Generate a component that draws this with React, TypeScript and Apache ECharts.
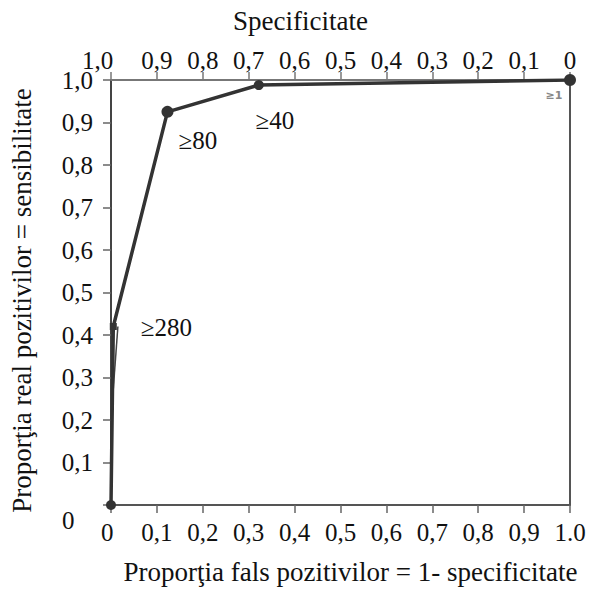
import React, { useEffect, useRef } from "react";
import * as echarts from "echarts";

const bottomTickLabels = ["0", "0,1", "0,2", "0,3", "0,4", "0,5", "0,6", "0,7", "0,8", "0,9", "1.0"];
const topTickLabels = ["1,0", "0,9", "0,8", "0,7", "0,6", "0,5", "0,4", "0,3", "0,2", "0,1", "0"];
const leftTickLabels = ["0", "0,1", "0,2", "0,3", "0,4", "0,5", "0,6", "0,7", "0,8", "0,9", "1,0"];

// ROC curve points: [1 - specificity, sensitivity]
const rocX = [0, 0.005, 0.123, 0.322, 1.0];
const rocY = [0, 0.42, 0.925, 0.988, 1.0];
const cutoffLabels = ["", "≥280", "≥80", "≥40", "≥1"];
// thin inner trace of the drawn curve near the origin
const innerX = [0, 0.015];
const innerY = [0.2, 0.42];

const SERIF = "Liberation Serif";

export default function App() {
  const ref = useRef<HTMLDivElement>(null);
  useEffect(() => {
    if (!ref.current) return;
    const chart = echarts.init(ref.current, undefined, { renderer: "svg" });
    const labelPos: any[] = [
      null,
      { position: "right", offset: [19, 1], fontSize: 25 },
      { position: "right", offset: [0, 29], fontSize: 25 },
      { position: "bottom", offset: [16, 13], fontSize: 25 },
      { position: "bottom", offset: [-16, -1], fontSize: 11, color: "#888", fontFamily: "DejaVu Sans", fontWeight: "bold" },
    ];
    const symbolSizes = [10, 7, 12, 10, 12];
    const symbols = ["circle", "rect", "circle", "circle", "circle"];
    const mainData = rocX.map((x, i) => ({
      value: [x, rocY[i]],
      symbol: symbols[i],
      symbolSize: symbolSizes[i],
      label: labelPos[i]
        ? {
            show: true,
            formatter: cutoffLabels[i],
            color: "#111",
            fontFamily: SERIF,
            ...labelPos[i],
          }
        : { show: false },
    }));
    const idx = (v: number) => Math.round(v * 10);
    chart.setOption({
      animation: false,
      backgroundColor: "#fff",
      textStyle: { fontFamily: SERIF },
      grid: {
        left: 111,
        right: 27,
        top: 80,
        bottom: 86,
        outerBoundsMode: "none",
        containLabel: false,
        show: true,
        borderColor: "#555",
        borderWidth: 2,
        backgroundColor: "transparent",
      },
      xAxis: [
        {
          type: "value",
          position: "bottom",
          min: 0,
          max: 1,
          interval: 0.1,
          name: "Proporţia fals pozitivilor = 1- specificitate",
          nameLocation: "middle",
          nameGap: 53,
          nameTextStyle: { fontFamily: SERIF, fontSize: 27, color: "#111", padding: [0, 0, 0, 20] },
          axisLine: { show: true, lineStyle: { color: "#555", width: 2 } },
          axisTick: { show: true, inside: false, length: 8, lineStyle: { color: "#666", width: 1.5 } },
          splitLine: { show: false },
          axisLabel: {
            margin: 15,
            fontFamily: SERIF,
            fontSize: 25,
            color: "#111",
            formatter: (v: number) => {
              const i = idx(v);
              return i === 0 ? "{b|" + bottomTickLabels[i] + "}" : bottomTickLabels[i];
            },
            rich: { b: { fontFamily: SERIF, fontSize: 25, color: "#111", width: 20, align: "left" } },
          },
        },
        {
          type: "value",
          position: "top",
          min: 0,
          max: 1,
          interval: 0.1,
          inverse: true,
          name: "Specificitate",
          nameLocation: "middle",
          nameGap: 46,
          nameTextStyle: { fontFamily: SERIF, fontSize: 27, color: "#111", padding: [0, 80, 0, 0] },
          axisLine: { show: true, lineStyle: { color: "#777", width: 2 } },
          axisTick: { show: true, inside: false, length: 8, lineStyle: { color: "#777", width: 1.5 } },
          splitLine: { show: false },
          axisLabel: {
            margin: 11,
            fontFamily: SERIF,
            fontSize: 25,
            lineHeight: 18,
            color: "#111",
            formatter: (v: number) => {
              const i = 10 - idx(v);
              const t = topTickLabels[i];
              return i === 0 ? "{s|" + t + "}" : t;
            },
            rich: { s: { fontFamily: SERIF, fontSize: 25, lineHeight: 18, color: "#111", width: 58, align: "left" } },
          },
        },
      ],
      yAxis: {
        type: "value",
        min: 0,
        max: 1,
        interval: 0.1,
        name: "Proporţia real pozitivilor = sensibilitate",
        nameLocation: "middle",
        nameGap: 76,
        nameRotate: 90,
        nameTextStyle: { fontFamily: SERIF, fontSize: 27, color: "#111", padding: [0, 16, 0, 0] },
        axisLine: { show: true, lineStyle: { color: "#444", width: 2 } },
        axisTick: { show: true, inside: false, length: 8, lineStyle: { color: "#666", width: 1.5 } },
        splitLine: { show: false },
        axisLabel: {
          margin: 18,
          fontFamily: SERIF,
          fontSize: 25,
          lineHeight: 18,
          color: "#111",
          formatter: (v: number) => {
            const i = idx(v);
            return i === 0 ? "{z|" + leftTickLabels[i] + "}" : leftTickLabels[i];
          },
          rich: { z: { fontFamily: SERIF, fontSize: 25, lineHeight: 18, color: "#111", width: 31, align: "left", padding: [30, 0, 0, 0] } },
        },
      },
      series: [
        {
          type: "line",
          xAxisIndex: 0,
          data: innerX.map((x, i) => [x, innerY[i]]),
          showSymbol: false,
          lineStyle: { color: "#444", width: 1.5 },
          z: 2,
        },
        {
          type: "line",
          xAxisIndex: 0,
          data: mainData,
          showSymbol: true,
          itemStyle: { color: "#333" },
          lineStyle: { color: "#333", width: 3.5 },
          z: 3,
        },
      ],
    });
    return () => chart.dispose();
  }, []);
  return (
    <div
      ref={ref}
      style={{ position: "fixed", left: 0, top: 0, width: 597, height: 591, background: "#fff" }}
    />
  );
}
